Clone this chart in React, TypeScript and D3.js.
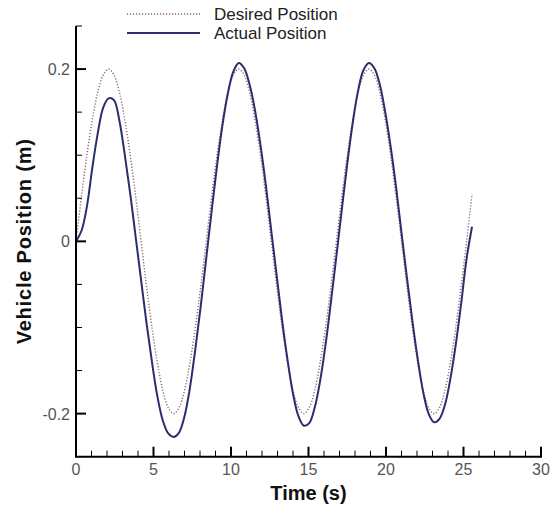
import React from "react";
import * as d3 from "d3";

// time samples (s)
const times: number[] = d3.range(74).map((i) => +(i * 0.35).toFixed(2));

// desired position (m)
const desired: number[] = [
  0, 0.052, 0.1, 0.141, 0.173, 0.193, 0.2, 0.193, 0.173, 0.141, 0.1, 0.052,
  0, -0.052, -0.1, -0.141, -0.173, -0.193, -0.2, -0.193, -0.173, -0.141, -0.1, -0.052,
  0, 0.052, 0.1, 0.141, 0.173, 0.193, 0.2, 0.193, 0.173, 0.141, 0.1, 0.052,
  0, -0.052, -0.1, -0.141, -0.173, -0.193, -0.2, -0.193, -0.173, -0.141, -0.1, -0.052,
  0, 0.052, 0.1, 0.141, 0.173, 0.193, 0.2, 0.193, 0.173, 0.141, 0.1, 0.052,
  0, -0.052, -0.1, -0.141, -0.173, -0.193, -0.2, -0.193, -0.173, -0.141, -0.1, -0.052,
  0, 0.055,
];

const actual: number[] = [
  0, 0.012, 0.04, 0.085, 0.125, 0.155, 0.166, 0.164, 0.14, 0.1, 0.055, 0.005,
  -0.045, -0.095, -0.14, -0.18, -0.208, -0.223, -0.227, -0.222, -0.203, -0.17, -0.125, -0.075,
  -0.02, 0.035, 0.088, 0.135, 0.172, 0.197, 0.207, 0.201, 0.182, 0.152, 0.112, 0.065,
  0.012, -0.04, -0.092, -0.138, -0.177, -0.203, -0.214, -0.211, -0.193, -0.162, -0.12, -0.07,
  -0.017, 0.037, 0.09, 0.137, 0.175, 0.199, 0.207, 0.201, 0.182, 0.15, 0.11, 0.063,
  0.01, -0.042, -0.092, -0.137, -0.175, -0.2, -0.21, -0.206, -0.19, -0.16, -0.12, -0.072,
  -0.02, 0.017,
];

const xTickLabels = ["0", "5", "10", "15", "20", "25", "30"];
const yTickLabels = ["-0.2", "0", "0.2"];

const W = 550;
const H = 505;
const left = 76;
const right = 541;
const top = 26;
const bottom = 456.7;

export default function App() {
  const x = d3.scaleLinear().domain([0, 30]).range([left, right]);
  const y = d3.scaleLinear().domain([-0.25, 0.25]).range([bottom, top]);

  const line = d3
    .line<number>()
    .x((_, i) => x(times[i]))
    .y((d) => y(d))
    .curve(d3.curveCatmullRom);

  const xMinor = d3.range(0, 31, 1).filter((v) => v % 5 !== 0);
  const yMinor = [-0.25, -0.15, -0.1, -0.05, 0.05, 0.1, 0.15, 0.25];
  const font = "'Liberation Sans', Arial, sans-serif";

  return (
    <svg
      width={W}
      height={H}
      style={{ position: "absolute", left: 0, top: 0, background: "#fff" }}
      fontFamily={font}
    >
      {/* curves */}
      <path d={line(desired) ?? ""} fill="none" stroke="#8f6470" strokeWidth={1.4} strokeDasharray="1.2 1.8" />
      <path d={line(actual) ?? ""} fill="none" stroke="#2b2d6e" strokeWidth={2} />

      {/* axes */}
      <line x1={left} x2={left} y1={top} y2={bottom} stroke="#000" strokeWidth={2} />
      <line x1={left - 1} x2={right + 1} y1={bottom} y2={bottom} stroke="#000" strokeWidth={2} />

      {xTickLabels.map((s) => (
        <g key={"xt" + s}>
          <line x1={x(+s)} x2={x(+s)} y1={bottom} y2={bottom - 10} stroke="#000" strokeWidth={2} />
          <text x={x(+s)} y={bottom + 18} textAnchor="middle" fontSize={16} fill="#555">
            {s}
          </text>
        </g>
      ))}
      {xMinor.map((v) => (
        <line key={"xm" + v} x1={x(v)} x2={x(v)} y1={bottom} y2={bottom - 6} stroke="#000" strokeWidth={1} />
      ))}

      {yTickLabels.map((s) => (
        <g key={"yt" + s}>
          <line x1={left} x2={left + 10} y1={y(+s)} y2={y(+s)} stroke="#000" strokeWidth={2} />
          <text x={left - 6} y={y(+s) + 6} textAnchor="end" fontSize={16} fill="#555">
            {s}
          </text>
        </g>
      ))}
      {yMinor.map((v) => (
        <line key={"ym" + v} x1={left} x2={left + 6} y1={y(v)} y2={y(v)} stroke="#000" strokeWidth={1} />
      ))}

      {/* titles */}
      <text x={(left + right) / 2} y={500} textAnchor="middle" fontSize={20} fontWeight="bold" fill="#111">
        Time (s)
      </text>
      <text
        transform={`translate(31,${(top + bottom) / 2}) rotate(-90)`}
        textAnchor="middle"
        fontSize={20}
        fontWeight="bold"
        fill="#111"
        letterSpacing={0.8}
      >
        Vehicle Position (m)
      </text>

      {/* legend */}
      <line x1={127} x2={200} y1={14} y2={14} stroke="#8f6470" strokeWidth={1.4} strokeDasharray="1.2 1.8" />
      <text x={214} y={20} fontSize={17} fill="#222">
        Desired Position
      </text>
      <line x1={127} x2={200} y1={33} y2={33} stroke="#2b2d6e" strokeWidth={2} />
      <text x={214} y={39} fontSize={17} fill="#222">
        Actual Position
      </text>
    </svg>
  );
}
